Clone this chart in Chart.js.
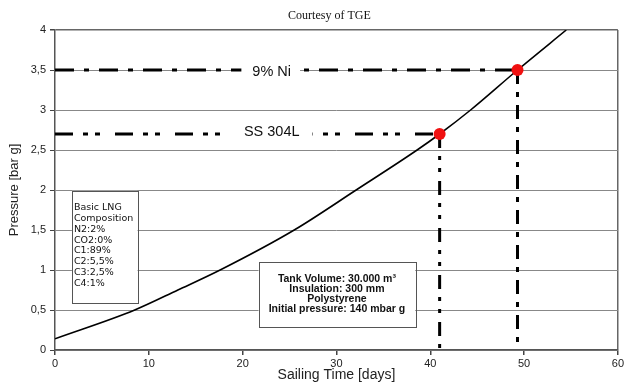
<!DOCTYPE html>
<html>
<head>
<meta charset="utf-8">
<script src="https://cdn.jsdelivr.net/npm/chart.js@4.4.1/dist/chart.umd.min.js"></script>
<style>
  html, body { margin: 0; padding: 0; background: #fff; }
  #wrap { width: 626px; height: 385px; }
</style>
</head>
<body>
<div id="wrap"><canvas id="c" width="626" height="385"></canvas></div>
<script>
// ---- data ----
const days     = [0, 8.5, 13.1, 17.6, 25.5, 32.1, 38.6, 41, 44.3, 49.3, 54.5];
const pressure = [0.14, 0.5, 0.75, 1.0, 1.5, 2.0, 2.5, 2.7, 3.0, 3.5, 4.0];
const limitLabels = ['9% Ni', 'SS 304L'];
const limitPressure = [3.5, 2.7];
const limitDays = [49.3, 41];
const xTicks = [0, 10, 20, 30, 40, 50, 60];
const yTicks = [0, 0.5, 1, 1.5, 2, 2.5, 3, 3.5, 4];
const compositionLines = ['Basic LNG', 'Composition', 'N2:2%', 'CO2:0%', 'C1:89%', 'C2:5,5%', 'C3:2,5%', 'C4:1%'];
const tankLines = ['Tank Volume: 30.000 m\u00B3', 'Insulation: 300 mm', 'Polystyrene', 'Initial pressure: 140 mbar g'];

const SANS = '"Liberation Sans", Arial, sans-serif';
const curve = days.map((d, i) => ({ x: d, y: pressure[i] }));

function hLine(i) { return [{ x: 0, y: limitPressure[i] }, { x: limitDays[i], y: limitPressure[i] }]; }
function vLine(i) { return [{ x: limitDays[i], y: limitPressure[i] }, { x: limitDays[i], y: 0 }]; }

const annot = {
  id: 'annot',
  afterDatasetsDraw(chart) {
    const { ctx, scales: { x, y } } = chart;
    ctx.save();
    // limit labels with white background
    ctx.font = '14.5px ' + SANS;
    ctx.textBaseline = 'middle';
    ctx.textAlign = 'center';
    const lx = x.getPixelForValue(23.1);
    const dy = [1.5, -2];
    const padL = [11, 14], padR = [9, 13];
    limitLabels.forEach((t, i) => {
      const py = y.getPixelForValue(limitPressure[i]);
      const w = ctx.measureText(t).width;
      ctx.fillStyle = '#fff';
      ctx.fillRect(lx - w / 2 - padL[i], py - 9, w + padL[i] + padR[i], 18);
      ctx.fillStyle = '#111';
      ctx.fillText(t, lx, py + dy[i]);
    });
    // composition box
    let x0 = x.getPixelForValue(1.8), x1 = x.getPixelForValue(8.8);
    let y0 = y.getPixelForValue(1.99), y1 = y.getPixelForValue(0.59);
    ctx.fillStyle = '#fff';
    ctx.fillRect(x0, y0, x1 - x0, y1 - y0);
    ctx.strokeStyle = '#555';
    ctx.lineWidth = 1;
    ctx.strokeRect(Math.round(x0) + 0.5, Math.round(y0) + 0.5, Math.round(x1 - x0), Math.round(y1 - y0));
    ctx.fillStyle = '#111';
    ctx.font = '9.5px "DejaVu Sans", Verdana, sans-serif';
    ctx.textAlign = 'left';
    compositionLines.forEach((t, i) => ctx.fillText(t, x0 + 2, y0 + 17 + i * 10.8));
    // tank box
    x0 = x.getPixelForValue(21.7); x1 = x.getPixelForValue(38.4);
    y0 = y.getPixelForValue(1.1); y1 = y.getPixelForValue(0.29);
    ctx.fillStyle = '#fff';
    ctx.fillRect(x0, y0, x1 - x0, y1 - y0);
    ctx.strokeStyle = '#555';
    ctx.strokeRect(Math.round(x0) + 0.5, Math.round(y0) + 0.5, Math.round(x1 - x0), Math.round(y1 - y0));
    ctx.fillStyle = '#111';
    ctx.font = 'bold 10.5px ' + SANS;
    ctx.textAlign = 'center';
    tankLines.forEach((t, i) => ctx.fillText(t, (x0 + x1) / 2, y0 + 17 + i * 10.2));
    // source note
    ctx.font = '12px "Liberation Serif", "Times New Roman", serif';
    ctx.fillStyle = '#111';
    ctx.fillText('Courtesy of TGE', (x.left + x.right) / 2 - 7, 16);
    ctx.restore();
  }
};

new Chart(document.getElementById('c'), {
  type: 'line',
  data: {
    datasets: [
      { data: hLine(0), borderColor: '#000', borderWidth: 3, borderDash: [19, 10, 5, 10], pointRadius: 0, order: 5 },
      { data: hLine(1), borderColor: '#000', borderWidth: 3, borderDash: [18, 10, 5, 7, 5, 15], pointRadius: 0, order: 5 },
      { data: vLine(0), borderColor: '#000', borderWidth: 3, borderDash: [14, 8, 5, 8], pointRadius: 0, order: 5 },
      { data: vLine(1), borderColor: '#000', borderWidth: 3, borderDash: [14, 8, 4, 8, 4, 9], pointRadius: 0, order: 5 },
      { data: curve, borderColor: '#000', borderWidth: 1.6, pointRadius: 0, cubicInterpolationMode: 'monotone', order: 2 },
      { data: limitDays.map((d, i) => ({ x: d, y: limitPressure[i] })), showLine: false,
        pointRadius: 6, pointBackgroundColor: '#f01010', pointBorderColor: '#f01010', pointBorderWidth: 0, order: 1 }
    ]
  },
  options: {
    responsive: false,
    animation: false,
    layout: { padding: { top: 30, right: 6, left: 0, bottom: 0 } },
    plugins: { legend: { display: false }, tooltip: { enabled: false }, title: { display: false } },
    scales: {
      x: {
        type: 'linear', min: 0, max: 60,
        afterFit(s) { s.height = 35; },
        afterBuildTicks(s) { s.ticks = xTicks.map(v => ({ value: v })); },
        ticks: { color: '#222', font: { family: SANS, size: 11 }, padding: 2, maxRotation: 0 },
        grid: {
          drawOnChartArea: true, tickLength: 5, tickColor: '#444',
          color: ctx => (ctx.tick && ctx.tick.value === 60) ? '#666' : 'rgba(0,0,0,0)', lineWidth: 1.5
        },
        border: { display: true, color: '#555', width: 1.5 },
        title: { display: true, text: 'Sailing Time [days]', color: '#222', font: { family: SANS, size: 14 }, padding: { top: 0, bottom: 1 } }
      },
      y: {
        type: 'linear', min: 0, max: 4,
        afterFit(s) { s.width = 55; },
        afterBuildTicks(s) { s.ticks = yTicks.map(v => ({ value: v })); },
        ticks: { color: '#222', font: { family: SANS, size: 11 }, padding: 4,
                 callback: v => String(v).replace('.', ',') },
        grid: { tickLength: 5, tickColor: '#444', color: ctx => (ctx.tick && ctx.tick.value === 4) ? '#666' : '#888', lineWidth: ctx => (ctx.tick && ctx.tick.value === 4) ? 1.5 : 1 },
        border: { display: true, color: '#555', width: 1.5 },
        title: { display: true, text: 'Pressure [bar g]', color: '#222', font: { family: SANS, size: 13 }, padding: { top: 7, bottom: 0 } }
      }
    }
  },
  plugins: [annot]
});
</script>
</body>
</html>
